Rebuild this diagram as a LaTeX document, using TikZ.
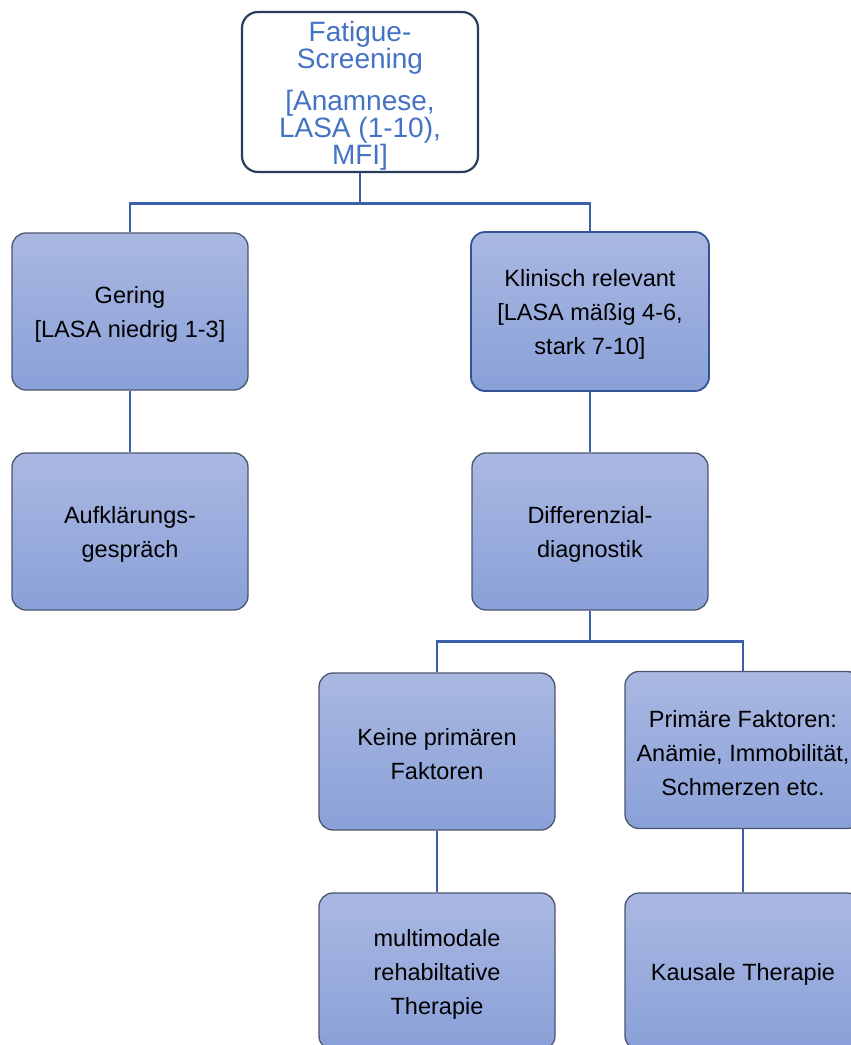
\documentclass[tikz,border=0pt]{standalone}
\usepackage{fontspec}
\setmainfont{Liberation Sans}
\definecolor{linecol}{RGB}{58,96,172}
\definecolor{boxtop}{RGB}{170,184,226}
\definecolor{boxbot}{RGB}{137,160,216}
\definecolor{boxedge}{RGB}{75,85,110}
\definecolor{boxedgeb}{RGB}{52,82,150}
\definecolor{topedge}{RGB}{44,60,92}
\definecolor{toptext}{RGB}{68,114,196}
\tikzset{
  bluebox/.style={rectangle, rounded corners=14pt, draw=boxedge, line width=1.3pt,
    top color=boxtop, bottom color=boxbot, minimum width=236pt, minimum height=157pt,
    inner sep=0pt},
  boxtext/.style={align=center, font=\fontsize{23.5}{34}\selectfont, text=black,
    inner sep=0pt, yshift=-3pt},
  topbox/.style={rectangle, rounded corners=16pt, draw=topedge, line width=2.2pt,
    fill=white, minimum width=236pt, minimum height=160pt, inner sep=0pt},
  toptxt/.style={align=center, font=\fontsize{28}{27}\selectfont, text=toptext,
    inner sep=0pt, yshift=-3.5pt},
  conn/.style={draw=linecol, line width=2.8pt}
}
\begin{document}
\begin{tikzpicture}[x=1pt,y=-1pt]
\useasboundingbox (0,0) rectangle (851,1045);
\clip (0,0) rectangle (851,1045);
\node[topbox] (top) at (360,92) {};
\node[toptxt] (topT) at (top) {Fatigue-\\Screening\\[15pt][Anamnese,\\LASA (1-10),\\MFI]};
\node[bluebox] (gering) at (130,311.5) {};
\node[boxtext] (geringT) at (gering) {Gering\\{}[LASA niedrig 1-3]};
\node[bluebox, draw=boxedgeb, line width=1.8pt, minimum width=238pt, minimum height=159pt] (klin) at (590,311.5) {};
\node[boxtext] (klinT) at (klin) {Klinisch relevant\\{}[LASA mäßig 4-6,\\stark 7-10]};
\node[bluebox] (aufk) at (130,531.5) {};
\node[boxtext] (aufkT) at (aufk) {Aufklärungs-\\gespräch};
\node[bluebox] (diff) at (590,531.5) {};
\node[boxtext] (diffT) at (diff) {Differenzial-\\diagnostik};
\node[bluebox] (keine) at (437,751.5) {};
\node[boxtext] (keineT) at (keine) {Keine primären\\Faktoren};
\node[bluebox] (prim) at (743,750) {};
\node[boxtext] (primT) at (prim) {Primäre Faktoren:\\Anämie, Immobilität,\\Schmerzen etc.};
\node[bluebox] (multi) at (437,971.5) {};
\node[boxtext] (multiT) at (multi) {multimodale\\rehabiltative\\Therapie};
\node[bluebox] (kaus) at (743,971.5) {};
\node[boxtext] (kausT) at (kaus) {Kausale Therapie};
\draw[conn] (top.south) -- ++(0,30) -| (gering.north);
\draw[conn] (top.south) -- ++(0,30) -| (klin.north);
\draw[conn] (gering.south) -- (aufk.north);
\draw[conn] (klin.south) -- (diff.north);
\draw[conn] (diff.south) -- ++(0,31) -| (keine.north);
\draw[conn] (diff.south) -- ++(0,31) -| (prim.north);
\draw[conn] (keine.south) -- (multi.north);
\draw[conn] (prim.south) -- (kaus.north);
\end{tikzpicture}
\end{document}
